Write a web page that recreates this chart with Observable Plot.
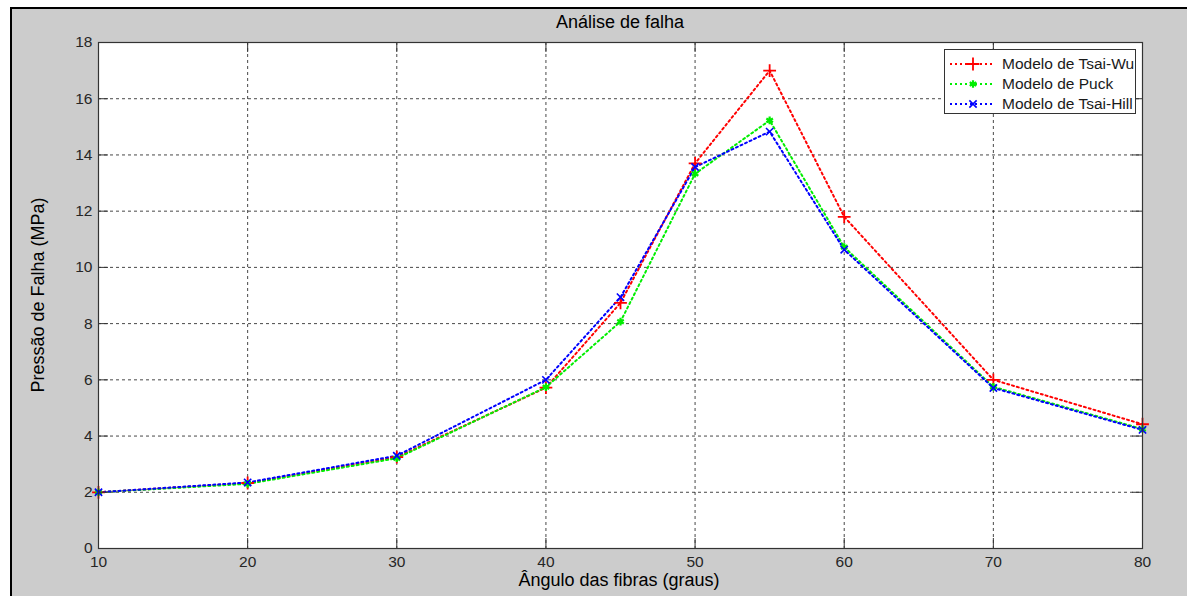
<!DOCTYPE html>
<html>
<head>
<meta charset="utf-8">
<script src="https://cdn.jsdelivr.net/npm/d3@7"></script>
<script src="https://cdn.jsdelivr.net/npm/@observablehq/plot@0.6"></script>
<style>
  html, body { margin: 0; padding: 0; background: #ffffff; }
  body { width: 1187px; height: 596px; position: relative; overflow: hidden;
         font-family: "Liberation Sans", Arial, Helvetica, sans-serif; }
  #fig { position: absolute; left: 10px; top: 7px; width: 1177px; height: 589px;
         box-sizing: border-box; border-left: 2px solid #000; border-top: 2px solid #000;
         background: #cccccc; }
  #chart { position: absolute; left: 12px; top: 9px; }
  .lbl { position: absolute; color: #000; font-size: 18px; white-space: nowrap; line-height: 1; }
  #title { left: 620px; top: 22px; transform: translate(-50%, -50%); }
  #xlabel { left: 619px; top: 580px; transform: translate(-50%, -50%); }
  #ylabel { left: 38px; top: 295px; transform: translate(-50%, -50%) rotate(-90deg); }
  #legend { position: absolute; left: 944px; top: 49px; width: 192px; height: 65px;
            box-sizing: border-box; background: #fff; border: 1px solid #333; }
  .row { position: absolute; left: 0; height: 20px; display: flex; align-items: center; }
  .row span { font-size: 15.5px; color: #1a1a1a; margin-left: 6px; }
</style>
</head>
<body>
<div id="fig"></div>
<div id="chart"></div>
<div class="lbl" id="title">Análise de falha</div>
<div class="lbl" id="xlabel">Ângulo das fibras (graus)</div>
<div class="lbl" id="ylabel">Pressão de Falha (MPa)</div>
<div id="legend"></div>
<script>
// ---- data ----
const angles   = [10, 20, 30, 40, 45, 50, 55, 60, 70, 80];
const tsaiWu   = [2.0, 2.33, 3.25, 5.72, 8.74, 13.70, 17.00, 11.80, 6.00, 4.42];
const puck     = [2.0, 2.30, 3.21, 5.74, 8.07, 13.33, 15.23, 10.72, 5.75, 4.25];
const tsaiHill = [2.0, 2.35, 3.30, 6.00, 8.94, 13.57, 14.83, 10.63, 5.71, 4.22];
const seriesNames   = ["Modelo de Tsai-Wu", "Modelo de Puck", "Modelo de Tsai-Hill"];
const seriesColors  = ["#ff0000", "#00ee00", "#0000ff"];
const seriesSymbols = ["plus", "asterisk", "times"];
const xTicks = [10, 20, 30, 40, 50, 60, 70, 80];
const yTicks = [0, 2, 4, 6, 8, 10, 12, 14, 16, 18];

const seriesValues = [tsaiWu, puck, tsaiHill];
const rows = [];
seriesValues.forEach((vals, s) => vals.forEach((v, i) => rows.push({series: seriesNames[s], x: angles[i], y: v, s})));

const W = 1175, H = 587, mt = 33, mr = 45, mb = 48, ml = 86;
const plotW = W - ml - mr, plotH = H - mt - mb, tickLen = 10;
const symR = [4.2, 3.6, 3.4];
const symW = [1.8, 2.2, 1.6];
const dash = "2,3";

const marks = [
  Plot.frame({fill: "#ffffff", stroke: null}),
  Plot.ruleX(xTicks, {x: d => d, stroke: "#000", strokeOpacity: 0.72, strokeDasharray: "3,3"}),
  Plot.ruleY(yTicks, {y: d => d, stroke: "#000", strokeOpacity: 0.72, strokeDasharray: "3,3"}),
];
seriesNames.forEach((name, s) => {
  const d = rows.filter(r => r.s === s);
  marks.push(Plot.line(d, {x: "x", y: "y", stroke: seriesColors[s], strokeWidth: 2, strokeDasharray: dash}));
});
seriesNames.forEach((name, s) => {
  const d = rows.filter(r => r.s === s);
  marks.push(Plot.dot(d, {x: "x", y: "y", symbol: () => seriesSymbols[s], r: symR[s], stroke: seriesColors[s], strokeWidth: symW[s], fill: "none"}));
});
marks.push(
  Plot.ruleX(xTicks, {x: d => d, stroke: "#333", insetTop: plotH - tickLen}),
  Plot.ruleX(xTicks, {x: d => d, stroke: "#333", insetBottom: plotH - tickLen}),
  Plot.ruleY(yTicks, {y: d => d, stroke: "#333", insetRight: plotW - tickLen}),
  Plot.ruleY(yTicks, {y: d => d, stroke: "#333", insetLeft: plotW - tickLen}),
  Plot.frame({stroke: "#333", strokeWidth: 1.2})
);

const chart = Plot.plot({
  width: W, height: H,
  marginTop: mt, marginRight: mr, marginBottom: mb, marginLeft: ml,
  style: {background: "transparent", fontFamily: "'Liberation Sans', Arial, sans-serif", fontSize: "15.5px", color: "#262626", overflow: "visible"},
  x: {domain: [10, 80], ticks: xTicks, tickSize: 0, tickPadding: 7, label: null, tickFormat: d => String(d)},
  y: {domain: [0, 18], ticks: yTicks, tickSize: 0, tickPadding: 6, label: null, tickFormat: d => String(d)},
  symbol: {domain: seriesSymbols, range: seriesSymbols},
  marks
});
document.getElementById("chart").appendChild(chart);

// ---- legend ----
const symbolMap = {plus: d3.symbolPlus, asterisk: d3.symbolAsterisk, times: d3.symbolTimes};
const legend = document.getElementById("legend");
seriesNames.forEach((name, s) => {
  const row = document.createElement("div");
  row.className = "row";
  row.style.top = (4 + s * 20) + "px";
  const svg = d3.create("svg").attr("width", 48).attr("height", 20).style("margin-left", "3px");
  svg.append("line").attr("x1", 2).attr("x2", 44).attr("y1", 10).attr("y2", 10)
     .attr("stroke", seriesColors[s]).attr("stroke-width", 2).attr("stroke-dasharray", dash);
  svg.append("path").attr("transform", "translate(25,10)")
     .attr("d", d3.symbol(symbolMap[seriesSymbols[s]], symR[s] * symR[s] * Math.PI)())
     .attr("stroke", seriesColors[s]).attr("stroke-width", symW[s]).attr("fill", "none");
  row.appendChild(svg.node());
  const t = document.createElement("span");
  t.textContent = name;
  row.appendChild(t);
  legend.appendChild(row);
});
</script>
</body>
</html>
